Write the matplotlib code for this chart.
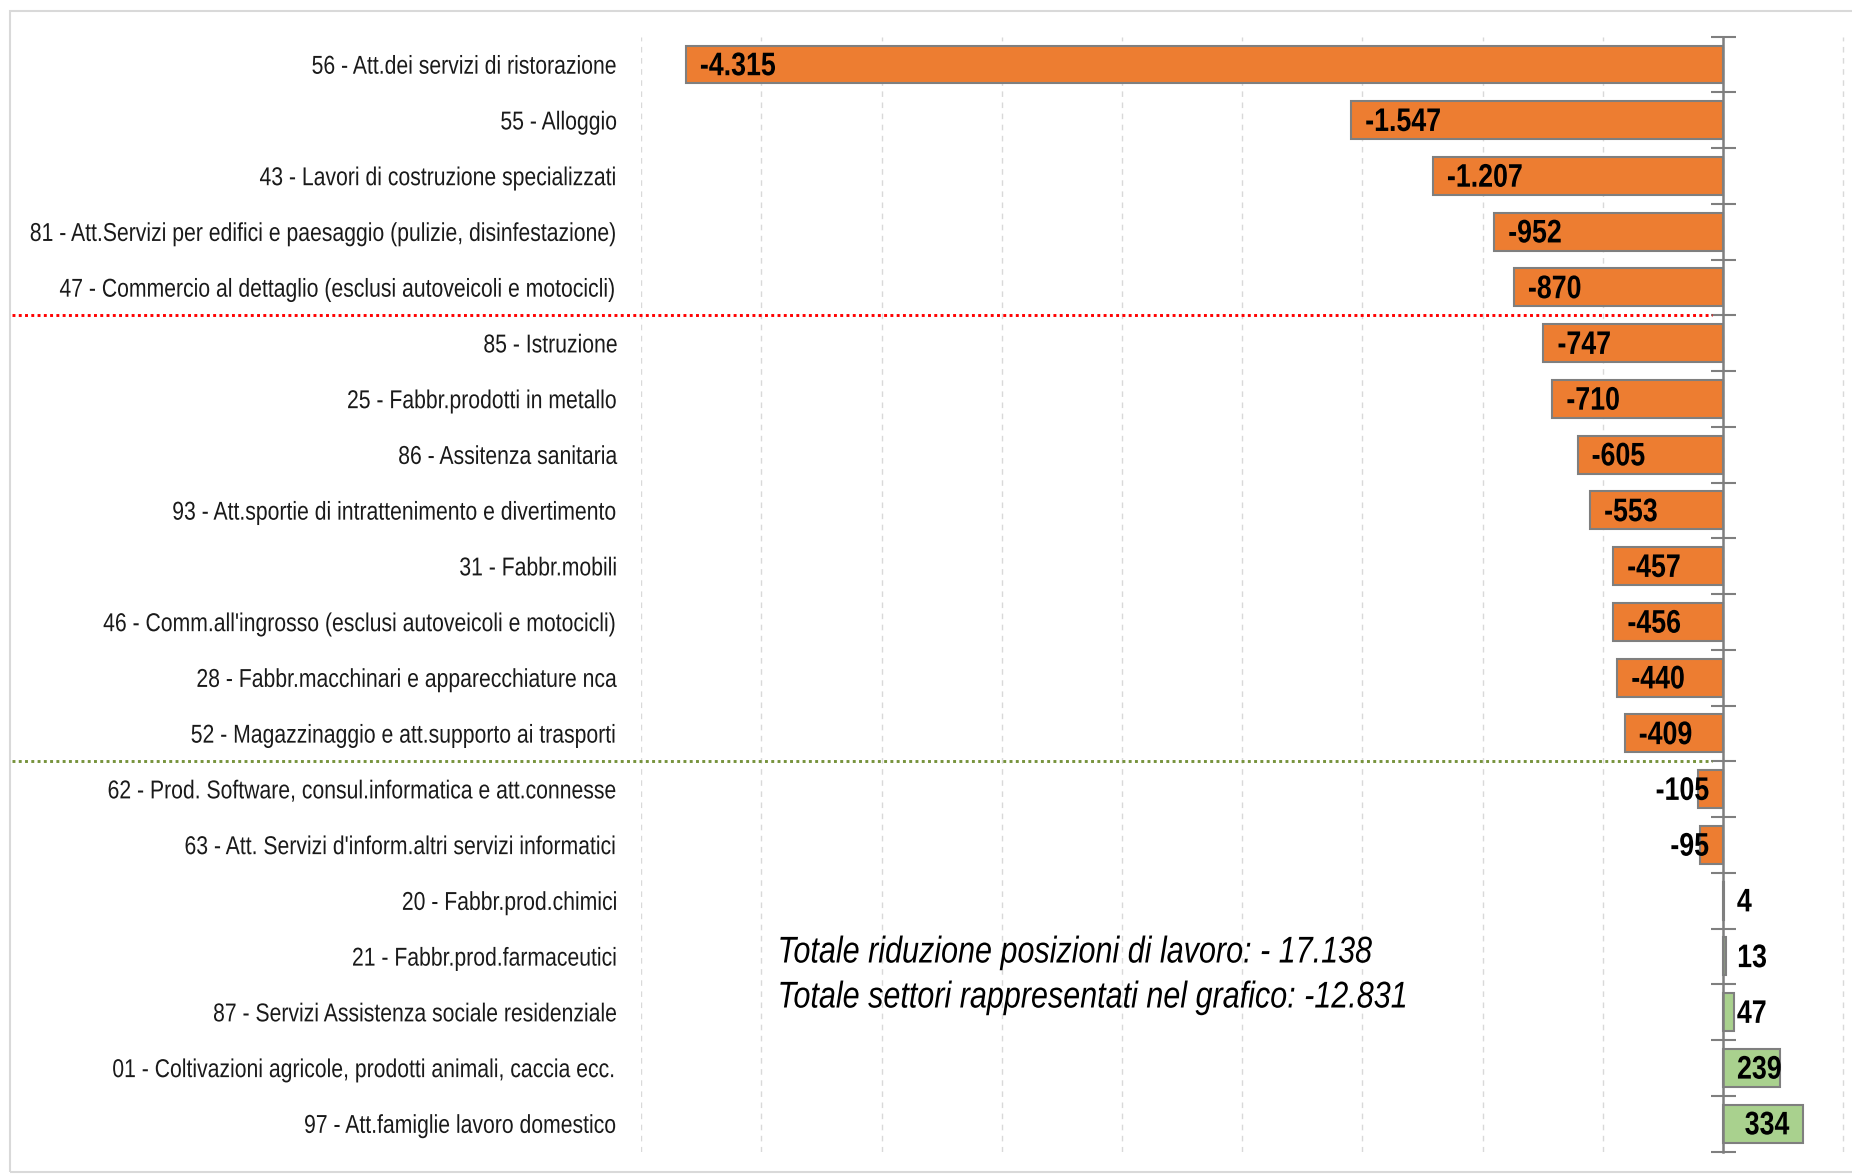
import matplotlib
matplotlib.use("Agg")
import matplotlib.pyplot as plt
import numpy as np
from matplotlib.patches import Rectangle
from matplotlib.patheffects import AbstractPathEffect
from matplotlib.transforms import Affine2D, Bbox, blended_transform_factory

sectors = [
    "56 - Att.dei servizi di ristorazione",
    "55 - Alloggio",
    "43 - Lavori di costruzione specializzati",
    "81 - Att.Servizi per edifici e paesaggio (pulizie, disinfestazione)",
    "47 - Commercio al dettaglio (esclusi autoveicoli e motocicli)",
    "85 - Istruzione",
    "25 - Fabbr.prodotti in metallo",
    "86 - Assitenza sanitaria",
    "93 - Att.sportie di intrattenimento e divertimento",
    "31 - Fabbr.mobili",
    "46 - Comm.all'ingrosso (esclusi autoveicoli e motocicli)",
    "28 - Fabbr.macchinari e apparecchiature nca",
    "52 - Magazzinaggio e att.supporto ai trasporti",
    "62 - Prod. Software, consul.informatica e att.connesse",
    "63 - Att. Servizi d'inform.altri servizi informatici",
    "20 - Fabbr.prod.chimici",
    "21 - Fabbr.prod.farmaceutici",
    "87 - Servizi Assistenza sociale residenziale",
    "01 - Coltivazioni agricole, prodotti animali, caccia ecc.",
    "97 - Att.famiglie lavoro domestico",
]
values = [-4315, -1547, -1207, -952, -870, -747, -710, -605, -553, -457,
          -456, -440, -409, -105, -95, 4, 13, 47, 239, 334]
note_lines = ["Totale riduzione posizioni di lavoro: - 17.138",
              "Totale settori rappresentati nel grafico: -12.831"]
red_after = 4      # red dotted separator below this row
green_after = 12   # green dotted separator below this row

plt.rcParams["font.family"] = ["Liberation Sans", "DejaVu Sans"]

ORANGE = "#ED7D31"
GREEN = "#A9D18E"
EDGE = "#7F7F7F"
SX = 0.82  # no Arial Narrow here: squeeze Liberation Sans horizontally


class Squeeze(AbstractPathEffect):
    """Draw text horizontally compressed about its left/right/centre edge."""

    def __init__(self, sx=SX, anchor="left"):
        super().__init__()
        self.sx, self.anchor = sx, anchor

    def draw_path(self, renderer, gc, tpath, affine, rgbFace=None):
        e = tpath.get_extents()
        x0 = {"left": e.x0, "right": e.x1, "center": 0.5 * (e.x0 + e.x1)}[self.anchor]
        tr = Affine2D().translate(-x0, 0).scale(self.sx, 1).translate(x0, 0) + affine
        renderer.draw_path(gc, tpath, tr, rgbFace)


def narrow(t, anchor):
    """Squeeze a text and make its reported extent match what is drawn."""
    t.set_path_effects([Squeeze(anchor=anchor)])
    orig = t.get_window_extent

    def gwe(renderer=None, dpi=None):
        bb = orig(renderer, dpi)
        a = {"left": bb.x0, "right": bb.x1, "center": 0.5 * (bb.x0 + bb.x1)}[anchor]
        return Bbox.from_extents(a + (bb.x0 - a) * SX, bb.y0, a + (bb.x1 - a) * SX, bb.y1)

    t.get_window_extent = gwe
    return t


W, H = 1852, 1175
fig = plt.figure(figsize=(W / 100, H / 100), dpi=100)
ax = fig.add_axes([641.3 / W, 23.5 / H, 1 - 641.3 / W, (1151.5 - 36.6) / H])

y = np.arange(len(values))
cols = [ORANGE if v < 0 else GREEN for v in values]
ax.barh(y, values, height=0.68, color=cols, edgecolor=EDGE, linewidth=1.5, zorder=3)
ax.set_xlim(-4500, 537)
ax.set_ylim(len(values) - 0.5, -0.5)

ax.set_xticks(np.arange(-4500, 501, 500))
ax.tick_params(axis="x", length=0, labelbottom=False)
ax.grid(axis="x", linestyle=(0, (4, 4)), color="#D9D9D9", lw=1)
ax.set_axisbelow(True)

for s in ("top", "right", "bottom"):
    ax.spines[s].set_visible(False)
ax.spines["left"].set_position(("data", 0))
ax.spines["left"].set_color(EDGE)
ax.spines["left"].set_linewidth(1.8)
ax.spines["left"].set_zorder(4)
ax.set_yticks(np.arange(-0.5, len(values), 1))
ax.tick_params(axis="y", direction="inout", length=18, width=1.5, color=EDGE, labelleft=False)

# category labels on the left
lab_tr = blended_transform_factory(fig.transFigure, ax.transData)
dy = 0.04  # nudge text down a little to sit on the bar centre
for i, s in enumerate(sectors):
    t = ax.text(618 / W, i + dy, s, transform=lab_tr, ha="right", va="center",
                fontsize=18.6, color="#1a1a1a", clip_on=False)
    narrow(t, "right")

# value labels
fig.canvas.draw()
r = fig.canvas.get_renderer()
px_per_unit = ax.transData.transform((1, 0))[0] - ax.transData.transform((0, 0))[0]
pad = 10
for i, v in enumerate(values):
    txt = f"{v:,}".replace(",", ".")
    t = ax.annotate(txt, (v, i + dy), xytext=(0, 0), textcoords="offset points",
                    ha="left", va="center", fontsize=23.5, fontweight="bold", zorder=5)
    tw = t.get_window_extent(renderer=r).width * SX
    bw = abs(v) * px_per_unit
    fits = tw + 2 * pad * 100 / 72 <= bw
    if v < 0:
        if fits:
            t.xy, t.xyann, ha = (v, i + dy), (pad, 0), "left"
        else:
            t.xy, t.xyann, ha = (0, i + dy), (-pad, 0), "right"
    else:
        if fits:
            t.xy, t.xyann, ha = (v, i + dy), (-pad, 0), "right"
        else:
            t.xy, t.xyann, ha = (0, i + dy), (pad, 0), "left"
    t.set_ha(ha)
    narrow(t, ha)

# dotted separators
for row, c in ((red_after, "#FF0000"), (green_after, "#77933C")):
    ax.plot([12 / W, 1712 / W], [row + 0.5, row + 0.5], transform=lab_tr, color=c,
            lw=2.1, linestyle=(0, (1, 1.15)), clip_on=False, zorder=6)

# notes
for k, line in enumerate(note_lines):
    t = fig.text(777 / W, 1 - (953 + 45 * k) / H, line, ha="left", va="center",
                 fontsize=26.8, style="italic", color="black")
    narrow(t, "left")

# chart frame
fig.add_artist(Rectangle((10 / W, 3 / H), 1.2, 1 - 14 / H, transform=fig.transFigure,
                         fill=False, ec="#D9D9D9", lw=1.5))

fig.savefig("out.png", dpi=100)
